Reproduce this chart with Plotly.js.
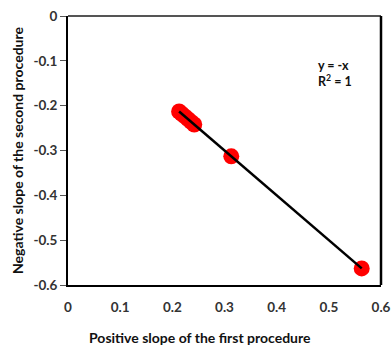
<!DOCTYPE html>
<html>
<head>
<meta charset="utf-8">
<script src="https://cdn.plot.ly/plotly-3.0.1.min.js"></script>
<style>html,body{margin:0;padding:0;background:#fff}#chart{width:392px;height:345px}</style>
</head>
<body>
<div id="chart"></div>
<script>
const positiveSlope = [0.213, 0.218, 0.224, 0.230, 0.236, 0.242, 0.313, 0.563];
const negativeSlope = [-0.213, -0.218, -0.224, -0.230, -0.236, -0.242, -0.313, -0.563];
const xTickVals = [0, 0.1, 0.2, 0.3, 0.4, 0.5, 0.6];
const xTickText = ["0", "0.1", "0.2", "0.3", "0.4", "0.5", "0.6"];
const yTickVals = [0, -0.1, -0.2, -0.3, -0.4, -0.5, -0.6];
const yTickText = ["0", "-0.1", "-0.2", "-0.3", "-0.4", "-0.5", "-0.6"];
const equationLines = ["y = -x", "R<sup>2</sup> = 1"];
const xTitle = "Positive slope of the first procedure";
const yTitle = "Negative slope of the second procedure";

// least squares fit
const n = positiveSlope.length;
const mx = positiveSlope.reduce((a,b)=>a+b,0)/n;
const my = negativeSlope.reduce((a,b)=>a+b,0)/n;
let sxy=0, sxx=0;
for (let i=0;i<n;i++){ sxy+=(positiveSlope[i]-mx)*(negativeSlope[i]-my); sxx+=(positiveSlope[i]-mx)**2; }
const slope = sxy/sxx, intercept = my - slope*mx;
const xmin = Math.min(...positiveSlope), xmax = Math.max(...positiveSlope);
const fitX = [xmin, xmax];
const fitY = fitX.map(x => slope*x + intercept);

const font = "Lato, 'Open Sans', sans-serif";
const data = [
  {x: positiveSlope, y: negativeSlope, mode: 'markers', type: 'scatter',
   marker: {color: '#ff0000', size: 16}, hoverinfo: 'skip'},
  {x: fitX, y: fitY, mode: 'lines', type: 'scatter',
   line: {color: '#000000', width: 2.5}, hoverinfo: 'skip'}
];
const layout = {
  width: 392, height: 345,
  margin: {l: 68, r: 11, t: 16, b: 60},
  showlegend: false,
  paper_bgcolor: '#ffffff', plot_bgcolor: '#ffffff',
  font: {family: font, size: 12, color: '#000'},
  xaxis: {
    range: [0, 0.6], tickvals: xTickVals, ticktext: xTickText,
    showgrid: false, zeroline: false, showline: true, linecolor: '#000', linewidth: 2,
    ticks: '', ticklabelstandoff: 9,
    tickfont: {family: font, size: 13.5, color: '#333', weight: 'bold'}
  },
  yaxis: {
    range: [-0.6, 0], tickvals: yTickVals, ticktext: yTickText,
    showgrid: false, zeroline: false, showline: true, linecolor: '#000', linewidth: 2,
    ticks: 'outside', ticklen: 6, tickcolor: '#555', tickwidth: 1,
    tickfont: {family: font, size: 13.5, color: '#333', weight: 'bold'},
    title: {text: '<b>' + yTitle + '</b>', font: {family: font, size: 14, color: '#111'}, standoff: 6}
  },
  shapes: [
    {type: 'line', xref: 'paper', yref: 'paper', x0: 0, x1: 1, y0: 1, y1: 1, line: {color: '#555', width: 2}},
    {type: 'line', xref: 'paper', yref: 'paper', x0: 1, x1: 1, y0: 0, y1: 1, line: {color: '#000', width: 2.5}}
  ],
  annotations: [{
    x: 0.475, y: -0.128, xref: 'x', yref: 'y', xanchor: 'left', yanchor: 'middle', align: 'left',
    text: '<b>' + equationLines.join('<br>') + '</b>', showarrow: false,
    font: {family: font, size: 12.5, color: '#111'}
  }, {
    x: 0.423, y: -0.194, xref: 'paper', yref: 'paper', xanchor: 'center', yanchor: 'middle',
    text: '<b>' + xTitle + '</b>', showarrow: false,
    font: {family: font, size: 14, color: '#111'}
  }]
};
Plotly.newPlot('chart', data, layout, {staticPlot: true, displayModeBar: false});
</script>
</body>
</html>
